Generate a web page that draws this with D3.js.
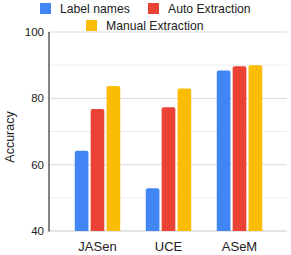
<!DOCTYPE html>
<html><head><meta charset="utf-8">
<script src="https://cdn.jsdelivr.net/npm/d3@7"></script>
<style>html,body{margin:0;padding:0;background:#fff;}svg{display:block;font-family:"Liberation Sans",Arial,sans-serif;}</style>
</head><body>
<svg id="c" width="291" height="255"></svg>
<script>
const categories = ["JASen", "UCE", "ASeM"];
const seriesNames = ["Label names", "Auto Extraction", "Manual Extraction"];
const labelNames = [64.2, 52.9, 88.4];
const autoExtraction = [76.8, 77.3, 89.7];
const manualExtraction = [83.7, 83.0, 90.0];
const yTicks = [40, 60, 80, 100];
const yGrid = [50, 70, 90];
const colors = ["#4285F4", "#EA4335", "#FBBC04"];

const seriesValues = [labelNames, autoExtraction, manualExtraction];
const svg = d3.select("#c");
const plotLeft = 49, plotRight = 287, plotTop = 32, plotBottom = 231;

const y = d3.scaleLinear().domain([40, 100]).range([plotBottom, plotTop]);
const x = d3.scaleBand().domain(categories).range([62, 275]).paddingInner(0.36).paddingOuter(0.18);
const xs = d3.scaleBand().domain(seriesNames).range([0, x.bandwidth()]).paddingInner(0.14);

// minor grid
svg.append("g").selectAll("line").data(yGrid).join("line")
  .attr("x1", plotLeft).attr("x2", plotRight).attr("y1", d => y(d)).attr("y2", d => y(d))
  .attr("stroke", "#ececec").attr("stroke-width", 1);
// major grid
svg.append("g").selectAll("line").data(yTicks).join("line")
  .attr("x1", plotLeft).attr("x2", plotRight).attr("y1", d => y(d)).attr("y2", d => y(d))
  .attr("stroke", d => d === 40 ? "#c8c8c8" : "#d9d9d9").attr("stroke-width", 1);

// y tick labels
svg.append("g").selectAll("text").data(yTicks).join("text")
  .attr("x", plotLeft - 5).attr("y", d => y(d)).attr("dy", "0.36em")
  .attr("text-anchor", "end").attr("font-size", "11.5px").attr("fill", "#222")
  .text(d => d);

// bars
const g = svg.append("g");
categories.forEach((c, ci) => {
  seriesNames.forEach((s, si) => {
    const v = seriesValues[si][ci];
    const bx = x(c) + xs(s), bw = xs.bandwidth();
    const by = y(v), bh = y(40) - y(v);
    g.append("path")
      .attr("d", `M${bx},${by + bh} L${bx},${by + 2} Q${bx},${by} ${bx + 2},${by} L${bx + bw - 2},${by} Q${bx + bw},${by} ${bx + bw},${by + 2} L${bx + bw},${by + bh} Z`)
      .attr("fill", colors[si]);
  });
});

// axis line
svg.append("line").attr("x1", plotLeft).attr("x2", plotLeft).attr("y1", plotTop).attr("y2", plotBottom + 0.5)
  .attr("stroke", "#333").attr("stroke-width", 1.2);

// x labels
svg.append("g").selectAll("text").data(categories).join("text")
  .attr("x", d => x(d) + x.bandwidth() / 2).attr("y", 251)
  .attr("text-anchor", "middle").attr("font-size", "13px").attr("fill", "#222")
  .text(d => d);

// y title
svg.append("text").attr("transform", "translate(14,137) rotate(-90)")
  .attr("text-anchor", "middle").attr("font-size", "12.5px").attr("fill", "#222").text("Accuracy");

// legend
const legendItems = [
  {name: seriesNames[0], color: colors[0], sx: 40, sy: 3},
  {name: seriesNames[1], color: colors[1], sx: 148, sy: 3},
  {name: seriesNames[2], color: colors[2], sx: 86, sy: 20}
];
const lg = svg.append("g").selectAll("g").data(legendItems).join("g");
lg.append("rect").attr("x", d => d.sx).attr("y", d => d.sy).attr("width", 11).attr("height", 11)
  .attr("fill", d => d.color);
lg.append("text").attr("x", d => d.sx + 20).attr("y", d => d.sy + 9.5)
  .attr("font-size", "12.2px").attr("fill", "#222").text(d => d.name);
</script>
</body></html>
